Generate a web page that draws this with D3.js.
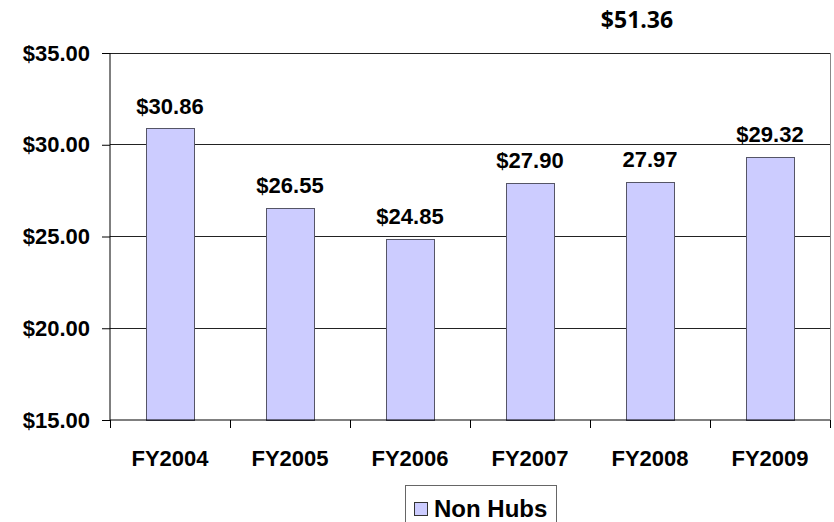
<!DOCTYPE html>
<html>
<head>
<meta charset="utf-8">
<script src="https://cdn.jsdelivr.net/npm/d3@7/dist/d3.min.js"></script>
<style>
  html, body { margin: 0; padding: 0; background: #fff; }
  svg { display: block; }
</style>
</head>
<body>
<svg id="chart" width="834" height="522"></svg>
<script>
const categories = ["FY2004", "FY2005", "FY2006", "FY2007", "FY2008", "FY2009"];
const values = [30.86, 26.55, 24.85, 27.90, 27.97, 29.32];
const valueLabels = ["$30.86", "$26.55", "$24.85", "$27.90", "27.97", "$29.32"];
const yTicks = [15, 20, 25, 30, 35];
const seriesName = "Non Hubs";
const strayLabel = "$51.36";

(function () {
const svg = d3.select("#chart");
const pL = 110, pR = 830, pT = 53, pB = 420;

const x = d3.scaleBand().domain(categories).range([pL, pR]).paddingInner(0).paddingOuter(0);
const y = d3.scaleLinear().domain([15, 35]).range([pB, pT]);

const font = "'Liberation Sans', Arial, sans-serif";
const fs = 22;

// gridlines
svg.append("g").selectAll("line").data(yTicks.filter(d => d > 15)).join("line")
  .attr("x1", pL).attr("x2", pR)
  .attr("y1", d => y(d)).attr("y2", d => y(d))
  .attr("stroke", "#222").attr("stroke-width", 1).attr("shape-rendering", "crispEdges");

// right border
svg.append("line").attr("x1", pR).attr("x2", pR).attr("y1", pT).attr("y2", pB + 8)
  .attr("stroke", "#888").attr("shape-rendering", "crispEdges");

// bars
const bw = x.bandwidth() * 0.4;
svg.append("g").selectAll("rect").data(values).join("rect")
  .attr("x", (d, i) => x(categories[i]) + (x.bandwidth() - bw) / 2)
  .attr("width", bw)
  .attr("y", d => y(d))
  .attr("height", d => y(15) - y(d))
  .attr("fill", "#ccccff")
  .attr("stroke", "#555566").attr("stroke-width", 1).attr("shape-rendering", "crispEdges");

// value labels
svg.append("g").selectAll("text").data(values).join("text")
  .attr("x", (d, i) => x(categories[i]) + x.bandwidth() / 2)
  .attr("y", d => y(d) - 15)
  .attr("text-anchor", "middle")
  .attr("font-family", font).attr("font-weight", "bold").attr("font-size", fs)
  .attr("fill", "#000")
  .text((d, i) => valueLabels[i]);

// y axis
const yAxis = svg.append("g").attr("transform", `translate(${pL},0)`)
  .call(d3.axisLeft(y).tickValues(yTicks).tickSize(8).tickPadding(12).tickFormat(d => "$" + d3.format(".2f")(d)));
yAxis.select(".domain").attr("stroke", "#000").attr("d", `M0,${pT}V${pB}`);
yAxis.selectAll(".tick line").attr("stroke", "#000");
yAxis.selectAll("text").attr("font-family", font).attr("font-weight", "bold").attr("font-size", fs).attr("fill", "#000");

// x axis
const xAxis = svg.append("g").attr("transform", `translate(0,${pB})`)
  .call(d3.axisBottom(x).tickSize(0).tickPadding(29));
xAxis.select(".domain").attr("stroke", "#000").attr("d", `M${pL},0H${pR}`);
xAxis.selectAll("text").attr("font-family", font).attr("font-weight", "bold").attr("font-size", fs).attr("fill", "#000").attr("dy", "0.75em");
// boundary ticks
svg.append("g").selectAll("line").data(categories.concat(["_end"])).join("line")
  .attr("x1", (d, i) => i < categories.length ? x(d) : pR)
  .attr("x2", (d, i) => i < categories.length ? x(d) : pR)
  .attr("y1", pB).attr("y2", pB + 8)
  .attr("stroke", "#000").attr("shape-rendering", "crispEdges");

// stray label
svg.append("text").attr("x", 637).attr("y", 28).attr("text-anchor", "middle")
  .attr("font-family", "'Open Sans', sans-serif").attr("font-weight", "bold").attr("font-size", 23)
  .attr("fill", "#000").text(strayLabel);

// legend
const lg = svg.append("g");
lg.append("rect").attr("x", 405.5).attr("y", 485.5).attr("width", 151).attr("height", 42)
  .attr("fill", "#fff").attr("stroke", "#666");
lg.append("rect").attr("x", 414.5).attr("y", 502.5).attr("width", 13).attr("height", 13)
  .attr("fill", "#ccccff").attr("stroke", "#333");
lg.append("text").attr("x", 434).attr("y", 517)
  .attr("font-family", font).attr("font-weight", "bold").attr("font-size", 24)
  .attr("fill", "#000").text(seriesName);
})();
</script>
</body>
</html>
